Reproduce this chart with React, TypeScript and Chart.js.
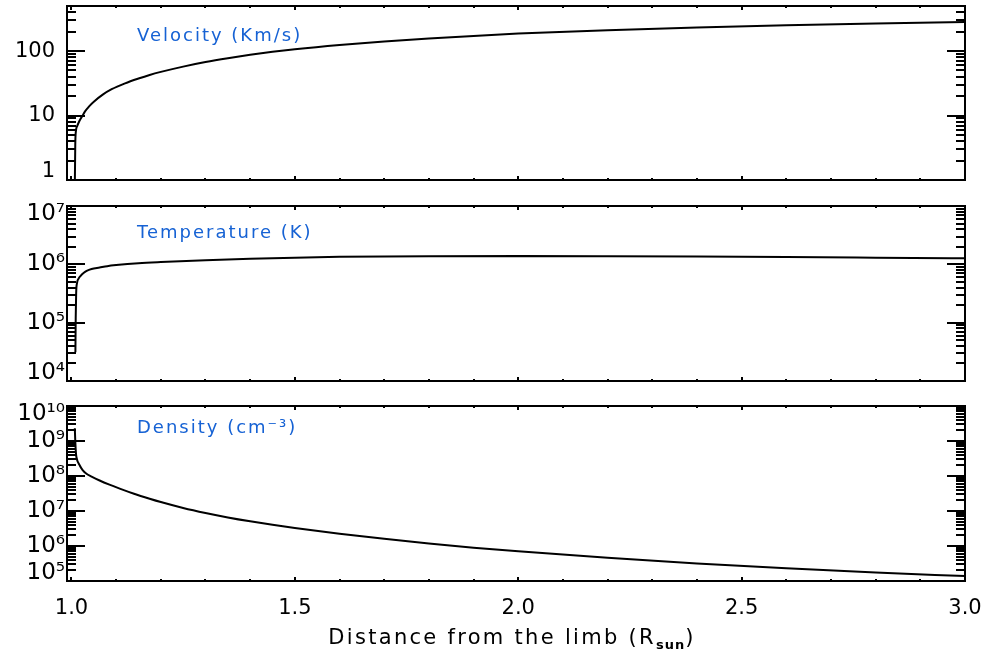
import React, { useEffect, useRef } from "react";
import { Chart, registerables } from "chart.js";

Chart.register(...registerables);

// ---------------- data ----------------
const VEL_X = [1.0075, 1.0085, 1.01, 1.013, 1.018, 1.025, 1.03, 1.04, 1.05, 1.07, 1.09, 1.12, 1.15, 1.175, 1.2, 1.25, 1.3, 1.35, 1.4, 1.45, 1.5, 1.6, 1.7, 1.8, 1.9, 2.0, 2.2, 2.4, 2.6, 2.8, 3.0];
const VEL_V = [0.8, 3.5, 5.8, 6.9, 8.3, 10.0, 11.5, 14.0, 16.4, 21.1, 25.6, 31.6, 37.5, 42.6, 47.5, 57.4, 67.5, 77.4, 87.4, 97.2, 106.5, 124.0, 140.8, 156.9, 172.0, 186.5, 211.2, 232.6, 251.0, 267.6, 282.8];

const TEMP_X = [1.0088, 1.0095, 1.0105, 1.0125, 1.016, 1.02, 1.027, 1.034, 1.045, 1.063, 1.08, 1.1, 1.15, 1.2, 1.3, 1.4, 1.5, 1.6, 1.8, 2.0, 2.2, 2.4, 2.6, 2.8, 3.0];
const TEMP_T = [3.1e4, 1.2e5, 3.2e5, 4.8e5, 5.7e5, 6.3e5, 7.1e5, 7.7e5, 8.3e5, 8.8e5, 9.3e5, 9.7e5, 1.047e6, 1.096e6, 1.175e6, 1.245e6, 1.3e6, 1.343e6, 1.38e6, 1.39e6, 1.38e6, 1.358e6, 1.33e6, 1.3e6, 1.27e6];

const DENS_X = [1.0075, 1.0085, 1.01, 1.011, 1.0186, 1.025, 1.0336, 1.045, 1.063, 1.085, 1.108, 1.14, 1.175, 1.2, 1.25, 1.3, 1.35, 1.4, 1.45, 1.5, 1.6, 1.7, 1.8, 1.9, 2.0, 2.2, 2.4, 2.6, 2.8, 3.0];
const DENS_N = [2.3e9, 1.0e9, 4.5e8, 3.5e8, 2.0e8, 1.48e8, 1.16e8, 9.64e7, 7.45e7, 5.66e7, 4.36e7, 3.11e7, 2.24e7, 1.8e7, 1.22e7, 8.77e6, 6.56e6, 5.08e6, 4.04e6, 3.27e6, 2.24e6, 1.6e6, 1.18e6, 8.97e5, 7.03e5, 4.6e5, 3.18e5, 2.32e5, 1.76e5, 1.38e5];

const X_MIN = 0.99;
const X_MAX = 3.0;
const X_MAJOR_TICKS = [1.0, 1.5, 2.0, 2.5, 3.0];
const X_TICK_LABELS = ["1.0", "1.5", "2.0", "2.5", "3.0"];

const VEL_RANGE = [1, 500];
const VEL_MAJOR = [1, 10, 100];
const VEL_TICK_LABELS = ["1", "10", "100"];

const TEMP_RANGE = [1e4, 1e7];
const TEMP_MAJOR = [1e4, 1e5, 1e6, 1e7];
const TEMP_TICK_LABELS = ["10⁴", "10⁵", "10⁶", "10⁷"];

const DENS_RANGE = [1e5, 1e10];
const DENS_MAJOR = [1e5, 1e6, 1e7, 1e8, 1e9, 1e10];
const DENS_TICK_LABELS = ["10⁵", "10⁶", "10⁷", "10⁸", "10⁹", "10¹⁰"];

const PANEL_TITLES = ["Velocity (Km/s)", "Temperature (K)", "Density (cm⁻³)"];
const X_TITLE_MAIN = "Distance from the limb (R";
const X_TITLE_SUB = "sun";
const X_TITLE_CLOSE = ")";

// ---------------- style / layout ----------------
const W = 987;
const H = 656;
const OFF = 120; // canvases overhang the visible page so Chart.js auto-padding never moves the plot areas
const CW = W + 2 * OFF;
const CH = H + 2 * OFF;
const AREA_LEFT = 67;
const AREA_RIGHT = 965;
const FONT_FAMILY = '"DejaVu Sans", sans-serif';
const LABEL_BLUE = "rgb(22,98,212)";
const Y_MAJOR_LEN = 18;
const Y_MINOR_LEN = 9;
const X_MAJOR_LEN = 4;
const X_MINOR_LEN = 2;

const PANEL_LAYOUT = [
  { top: 6, bottom: 180, titleDy: 35, xAxisH: 0, labelGap: 12, labelSize: 21 },
  { top: 206, bottom: 381, titleDy: 32, xAxisH: 0, labelGap: 2, labelSize: 23 },
  { top: 406, bottom: 581, titleDy: 27, xAxisH: 50, labelGap: 2, labelSize: 23 },
];

function isPow10(v: number) {
  const l = Math.log10(v);
  return Math.abs(l - Math.round(l)) < 1e-6;
}

function logTicks(min: number, max: number) {
  const out: { value: number }[] = [];
  const e0 = Math.floor(Math.log10(min));
  const e1 = Math.ceil(Math.log10(max));
  for (let e = e0; e <= e1; e++) {
    for (let m = 1; m <= 9; m++) {
      const v = m * Math.pow(10, e);
      if (v >= min * 0.9999 && v <= max * 1.0001) out.push({ value: v });
    }
  }
  return out;
}

function xTicks() {
  const out: { value: number }[] = [];
  for (let i = 0; i <= 20; i++) out.push({ value: Math.round((1 + i * 0.1) * 10) / 10 });
  return out;
}

function isXMajor(v: number) {
  return X_MAJOR_TICKS.some((m) => Math.abs(m - v) < 1e-6);
}

function yScale(p: any, position: "left" | "right") {
  const left = position === "left";
  const isEdge = (v: number) =>
    Math.abs(v - p.yMin) / p.yMin < 1e-6 || Math.abs(v - p.yMax) / p.yMax < 1e-6;
  return {
    type: "logarithmic",
    position,
    min: p.yMin,
    max: p.yMax,
    afterBuildTicks: (s: any) => {
      s.ticks = logTicks(p.yMin, p.yMax);
    },
    afterFit: (s: any) => {
      s.width = left ? AREA_LEFT : 0;
    },
    border: { display: true, color: "#000", width: 2 },
    grid: {
      display: true,
      drawOnChartArea: false,
      drawTicks: true,
      tickLength: -Y_MAJOR_LEN,
      lineWidth: 2,
      tickWidth: 2,
      tickColor: "#000",
      tickBorderDash: (c: any) => {
        const v = c.tick ? c.tick.value : 1;
        if (isPow10(v)) return [];
        return left ? [0, Y_MAJOR_LEN - Y_MINOR_LEN, 40] : [Y_MINOR_LEN + 1, 40];
      },
    },
    ticks: {
      display: left,
      autoSkip: false,
      padding: Y_MAJOR_LEN + p.labelGap,
      color: "#000",
      font: (c: any) => {
        const v = c.tick ? c.tick.value : 1;
        if (!isPow10(v)) return { family: FONT_FAMILY, size: p.labelSize, lineHeight: "1px" };
        if (isEdge(v)) return { family: FONT_FAMILY, size: p.labelSize, lineHeight: "16px" };
        return { family: FONT_FAMILY, size: p.labelSize, lineHeight: 1.2 };
      },
      callback: (value: any) => {
        const v = Number(value);
        const idx = p.major.findIndex((m: number) => Math.abs(m - v) / m < 1e-6);
        if (idx < 0) return "";
        const txt = p.majorLabels[idx];
        if (Math.abs(v - p.yMin) / p.yMin < 1e-6) return [txt, ""];
        if (Math.abs(v - p.yMax) / p.yMax < 1e-6) return ["", txt];
        return txt;
      },
    },
  };
}

function xScale(position: "top" | "bottom", showLabels: boolean, axisH: number) {
  const bottom = position === "bottom";
  return {
    type: "linear",
    position,
    min: X_MIN,
    max: X_MAX,
    afterBuildTicks: (s: any) => {
      s.ticks = xTicks();
    },
    afterFit: (s: any) => {
      s.height = axisH;
    },
    border: { display: true, color: "#000", width: 2 },
    grid: {
      display: true,
      drawOnChartArea: false,
      drawTicks: true,
      tickLength: -X_MAJOR_LEN,
      lineWidth: 2,
      tickWidth: 2,
      tickColor: "#000",
      tickBorderDash: (c: any) => {
        const v = c.tick ? c.tick.value : 1;
        if (isXMajor(v)) return [];
        return bottom ? [X_MINOR_LEN + 1, 20] : [0, X_MAJOR_LEN - X_MINOR_LEN, 20];
      },
    },
    ticks: {
      display: showLabels,
      autoSkip: false,
      maxRotation: 0,
      minRotation: 0,
      padding: 19,
      color: "#000",
      font: { family: FONT_FAMILY, size: 21 },
      callback: (value: any) => {
        const v = Number(value);
        const i = X_MAJOR_TICKS.findIndex((m) => Math.abs(m - v) < 1e-6);
        return i >= 0 ? X_TICK_LABELS[i] : "";
      },
    },
  };
}

const panelTextPlugin = {
  id: "panelText",
  afterDraw(chart: any, _args: any, opts: any) {
    const { ctx, chartArea } = chart;
    ctx.save();
    ctx.fillStyle = LABEL_BLUE;
    ctx.font = `18px ${FONT_FAMILY}`;
    ctx.letterSpacing = "2px";
    ctx.textAlign = "left";
    ctx.textBaseline = "alphabetic";
    ctx.fillText(opts.label, chartArea.left + 70, chartArea.top + opts.dy);
    if (opts.xTitle) {
      ctx.fillStyle = "#000";
      const big = `21px ${FONT_FAMILY}`;
      const small = `bold 13px ${FONT_FAMILY}`;
      ctx.font = big;
      ctx.letterSpacing = "2.3px";
      const w1 = ctx.measureText(X_TITLE_MAIN).width;
      const w3 = ctx.measureText(X_TITLE_CLOSE).width;
      ctx.font = small;
      ctx.letterSpacing = "1px";
      const w2 = ctx.measureText(X_TITLE_SUB).width;
      const total = w1 + w2 + w3;
      const cx = chartArea.left + 445;
      const by = chartArea.bottom + 63;
      let x = cx - total / 2;
      ctx.font = big;
      ctx.letterSpacing = "2.3px";
      ctx.fillText(X_TITLE_MAIN, x, by);
      x += w1;
      ctx.font = small;
      ctx.letterSpacing = "1px";
      ctx.fillText(X_TITLE_SUB, x, by + 5);
      x += w2;
      ctx.font = big;
      ctx.letterSpacing = "2.3px";
      ctx.fillText(X_TITLE_CLOSE, x, by);
    }
    ctx.restore();
  },
};

const PANELS = [
  { xs: VEL_X, ys: VEL_V, yMin: VEL_RANGE[0], yMax: VEL_RANGE[1], major: VEL_MAJOR, majorLabels: VEL_TICK_LABELS, title: PANEL_TITLES[0], showX: false, ...PANEL_LAYOUT[0] },
  { xs: TEMP_X, ys: TEMP_T, yMin: TEMP_RANGE[0], yMax: TEMP_RANGE[1], major: TEMP_MAJOR, majorLabels: TEMP_TICK_LABELS, title: PANEL_TITLES[1], showX: false, ...PANEL_LAYOUT[1] },
  { xs: DENS_X, ys: DENS_N, yMin: DENS_RANGE[0], yMax: DENS_RANGE[1], major: DENS_MAJOR, majorLabels: DENS_TICK_LABELS, title: PANEL_TITLES[2], showX: true, ...PANEL_LAYOUT[2] },
];

function makeConfig(p: any): any {
  return {
    type: "line",
    data: {
      datasets: [
        {
          data: p.xs.map((x: number, i: number) => ({ x, y: p.ys[i] })),
          borderColor: "#000",
          borderWidth: 2,
          pointRadius: 0,
          fill: false,
          cubicInterpolationMode: "monotone",
          xAxisID: "x",
          yAxisID: "y",
        },
      ],
    },
    options: {
      animation: false,
      responsive: false,
      events: [],
      layout: {
        padding: {
          left: OFF,
          right: CW - OFF - AREA_RIGHT,
          top: OFF + p.top,
          bottom: CH - OFF - p.bottom - p.xAxisH,
        },
      },
      plugins: {
        legend: { display: false },
        tooltip: { enabled: false },
        panelText: { label: p.title, dy: p.titleDy, xTitle: p.showX },
      },
      scales: {
        x: xScale("bottom", p.showX, p.xAxisH),
        x2: xScale("top", false, 0),
        y: yScale(p, "left"),
        y2: yScale(p, "right"),
      },
    },
    plugins: [panelTextPlugin],
  };
}

export default function App() {
  const r1 = useRef<HTMLCanvasElement>(null);
  const r2 = useRef<HTMLCanvasElement>(null);
  const r3 = useRef<HTMLCanvasElement>(null);
  const refs = [r1, r2, r3];

  useEffect(() => {
    const charts = PANELS.map((p, i) => new Chart(refs[i].current as HTMLCanvasElement, makeConfig(p)));
    return () => charts.forEach((c) => c.destroy());
  }, []);

  return (
    <div
      style={{
        position: "fixed",
        left: 0,
        top: 0,
        width: W,
        height: H,
        background: "#fff",
        overflow: "hidden",
      }}
    >
      {refs.map((r, i) => (
        <canvas
          key={i}
          ref={r}
          width={CW}
          height={CH}
          style={{ position: "absolute", left: -OFF, top: -OFF, width: CW, height: CH }}
        />
      ))}
    </div>
  );
}
